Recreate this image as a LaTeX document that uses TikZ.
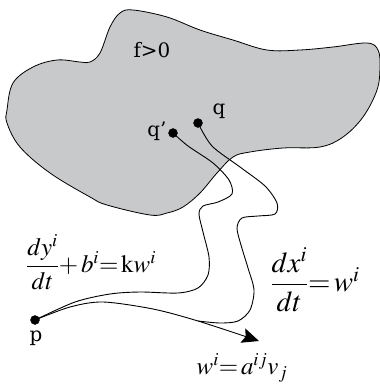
\documentclass[tikz,border=0pt]{standalone}
\usepackage{amsmath}
\usepackage{mathptmx}
\usepackage{fontspec}
\setmainfont{DejaVu Serif}
\usepackage{tikz}
\usetikzlibrary{arrows.meta, positioning}
\definecolor{regiongray}{RGB}{200,201,203}

\begin{document}
\begin{tikzpicture}[x=1bp, y=-1bp,
    dot/.style={draw, circle, fill=black, inner sep=0pt, minimum size=9bp},
    lbl/.style={inner sep=1pt, font=\fontsize{20}{22}\selectfont},
    curve/.style={line width=0.9bp}]
    \useasboundingbox (0,0) rectangle (380,387);

    % region where f>0
    \draw [fill=regiongray, line width=0.8bp] plot [smooth cycle, tension=0.6] coordinates {
        (110,27) (120,13) (133,10) (167,17) (200,30) (233,40) (267,50) (300,50)
        (333,47) (367,43) (378,50) (380,67) (377,90) (363,117) (343,137) (320,147)
        (283,148) (250,152) (233,157) (217,173) (200,193) (183,207) (167,213)
        (150,215) (107,205) (90,197) (50,173) (20,147) (7,123) (7,110) (13,83)
        (33,67) (57,60) (80,62) (90,62) (100,53)};
    \node (f) at (152,50) [lbl] {f>0};

    \node (q) at (198,123) [dot] {};
    \node (qq) at (173,133) [dot] {};
    \node (p) at (35,320) [dot] {};
    \node (lq) at (219,111) [lbl] {q};
    \node (lqq) at (157,131) [lbl] {q'};
    \node (lp) at (36,338) [lbl] {p};
    \coordinate (m) at (198,321);
    \coordinate (tip) at (259,341);

    \draw [curve] plot [smooth] coordinates {(qq.center) (188,146) (213,163) (229,180)
        (232,194) (218,202) (203,206) (199,214) (203,232) (209,257) (208,275)
        (198,288) (178,293) (140,292) (110,294) (75,302) (p.center)};
    \draw [curve] plot [smooth] coordinates {(q.center) (212,146) (240,167) (265,186)
        (277,203) (275,214) (258,216) (242,218) (237,228) (241,245) (248,268)
        (254,290) (250,310) (238,321) (220,323) (m)};
    \draw [curve, -{Stealth[length=17bp, width=15bp, inset=3bp]}] plot [smooth]
        coordinates {(p.center) (70,307) (103,302) (153,309) (m) (tip)};

    \node (eqy) at (91,262) [lbl, font=\fontsize{25}{27}\selectfont]
        {$\dfrac{dy^i}{dt}{+}\,b^i{=}\,\mathrm{k}w^i$};
    \node (eqx) at (315,280) [lbl, font=\fontsize{29}{31}\selectfont]
        {$\dfrac{dx^i}{dt}{=}\,w^i$};
    \node (eqw) at (242,368) [lbl, font=\fontsize{25}{27}\selectfont]
        {$w^i{=}\,a^{ij}v_j$};
\end{tikzpicture}
\end{document}
